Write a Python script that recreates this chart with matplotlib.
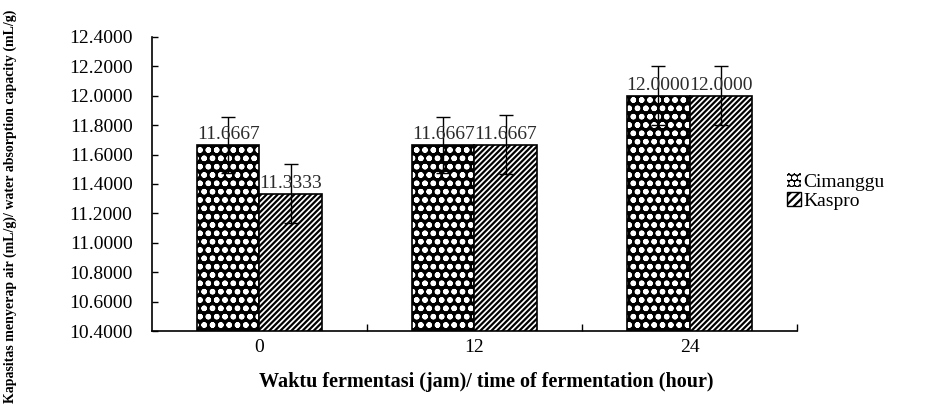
import numpy as np
import matplotlib.pyplot as plt
from matplotlib.patches import Patch

plt.rcParams['font.family'] = ['Liberation Serif', 'DejaVu Serif']
plt.rcParams['hatch.linewidth'] = 1.6

categories = ['0', '12', '24']
cimanggu = [11.6667, 11.6667, 12.0000]
kaspro = [11.3333, 11.6667, 12.0000]
cimanggu_err = [0.19, 0.19, 0.2]
kaspro_err = [0.2, 0.2, 0.2]
yticks = np.arange(10.4, 12.41, 0.2)

fig = plt.figure(figsize=(9.41, 4.12), dpi=100)
ax = fig.add_axes([0.1615, 0.1966, 0.6855, 0.7136])

x = np.arange(len(categories))
w = 0.29
base = 10.4

# Cimanggu: white rings on black, drawn in two layers so hatch and outline differ
ax.bar(x - w/2, np.array(cimanggu) - base, w, bottom=base, color='black',
       edgecolor='white', hatch='oo', linewidth=0, zorder=2)
ax.bar(x - w/2, np.array(cimanggu) - base, w, bottom=base, fill=False,
       edgecolor='black', linewidth=1.2, zorder=3)
ax.bar(x + w/2, np.array(kaspro) - base, w, bottom=base, color='white',
       edgecolor='black', hatch='//////', linewidth=1.2, zorder=3)

ax.errorbar(x - w/2, cimanggu, yerr=cimanggu_err, fmt='none', ecolor='black',
            elinewidth=1, capsize=5, zorder=4)
ax.errorbar(x + w/2, kaspro, yerr=kaspro_err, fmt='none', ecolor='black',
            elinewidth=1, capsize=5, zorder=4)

for xi, v in zip(x - w/2, cimanggu):
    ax.annotate(f'{v:.4f}', (xi, v), xytext=(0, 1), textcoords='offset points',
                ha='center', va='bottom', fontsize=14, color='#2b2b2b', zorder=5)
for xi, v in zip(x + w/2, kaspro):
    ax.annotate(f'{v:.4f}', (xi, v), xytext=(0, 1), textcoords='offset points',
                ha='center', va='bottom', fontsize=14, color='#2b2b2b', zorder=5)

ax.set_ylim(10.4, 12.4)
ax.set_yticks(yticks)
ax.set_yticklabels([f'{t:.4f}' for t in yticks])
ax.tick_params(axis='y', direction='in', length=4, pad=14, labelsize=14, width=1)

ax.set_xlim(-0.5, 2.5)
ax.set_xticks([0.5, 1.5, 2.5])
ax.set_xticklabels([])
ax.tick_params(axis='x', which='major', direction='in', length=5, width=1)
ax.set_xticks(x, minor=True)
ax.set_xticklabels(categories, minor=True)
ax.tick_params(axis='x', which='minor', length=0, pad=6, labelsize=14)

for s in ['top', 'right']:
    ax.spines[s].set_visible(False)
for s in ['left', 'bottom']:
    ax.spines[s].set_linewidth(1.2)

ax.set_xlabel('Waktu fermentasi (jam)/ time of fermentation (hour)',
              fontsize=14.5, fontweight='bold')
ax.xaxis.set_label_coords(0.518, -0.14)

fig.text(0.004, 0.5, 'Kapasitas menyerap air (mL/g)/ water absorption capacity (mL/g)',
         rotation=90, ha='left', va='center', fontsize=10, fontweight='bold')

handles = [Patch(facecolor='black', edgecolor='white', hatch='ooo', linewidth=0),
           Patch(facecolor='white', edgecolor='black', hatch='////')]
fig.legend(handles, ['Cimanggu', 'Kaspro'], loc='center left',
           bbox_to_anchor=(0.826, 0.535), frameon=False, fontsize=14,
           handlelength=0.7, handleheight=0.7, handletextpad=0.15,
           labelspacing=0.05, borderpad=0)

fig.savefig('out.png', dpi=100)
